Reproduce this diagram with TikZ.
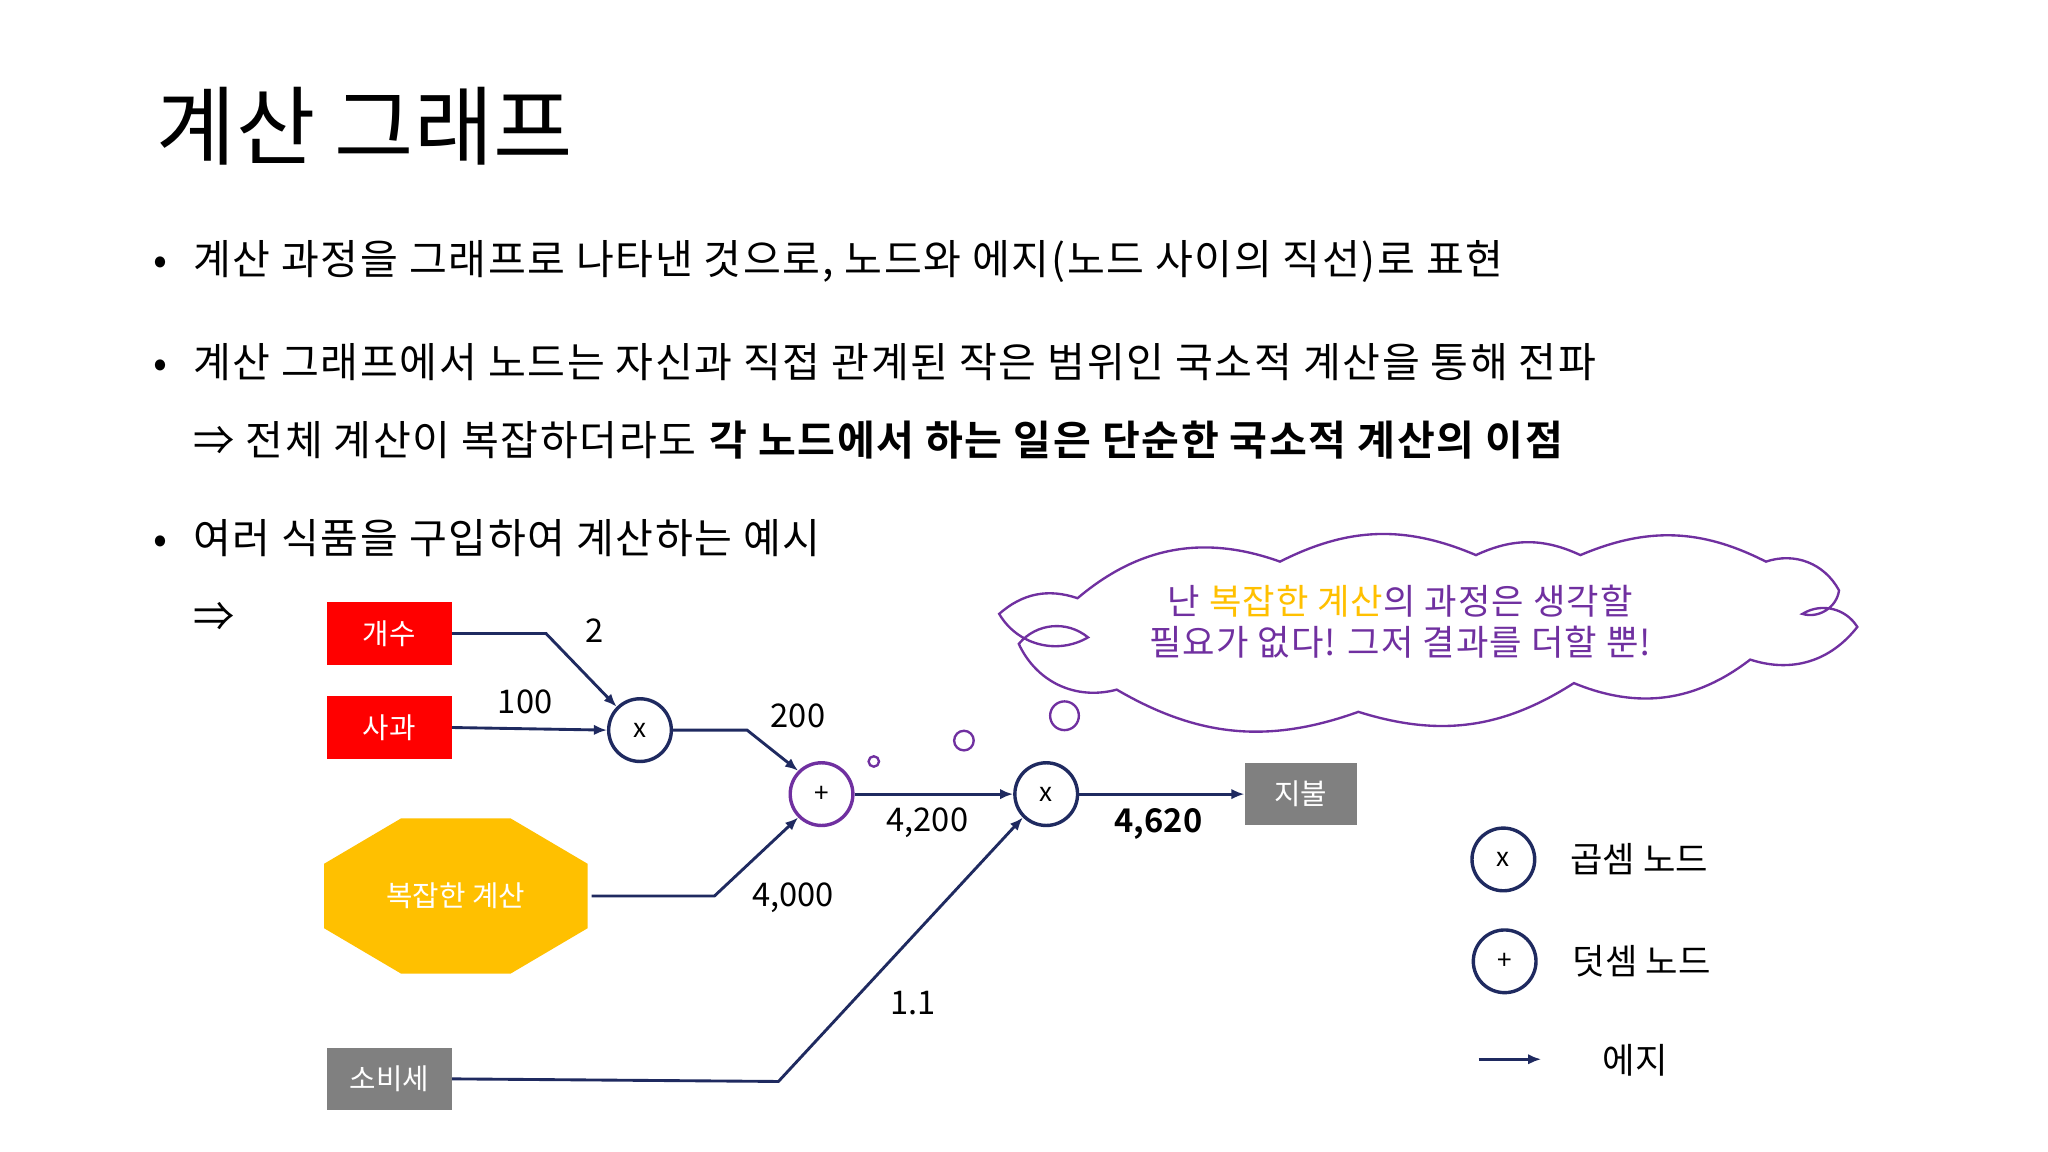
\documentclass[tikz,border=0pt]{standalone}
\usepackage{fontspec}
\setmainfont{Noto Sans CJK KR}[BoldFont={Noto Sans CJK KR Bold}]
\usetikzlibrary{shapes.geometric,arrows.meta}
\definecolor{navy}{HTML}{1F2A60}
\definecolor{purp}{HTML}{7030A0}
\definecolor{gold}{HTML}{FFC000}
\definecolor{redb}{HTML}{FF0000}
\definecolor{grayb}{HTML}{808080}
\tikzset{
 box/.style={minimum width=96pt,minimum height=48pt,inner sep=0,text=white,font=\fontsize{22}{24}\selectfont},
 opn/.style={circle,draw=navy,line width=2.6pt,minimum size=48pt,inner sep=0,fill=white,font=\fontsize{20}{22}\selectfont},
 edge/.style={draw=navy,line width=2.2pt,-{Latex[length=10pt,width=8pt]}},
 lab/.style={font=\fontsize{25}{27}\selectfont},
 bul/.style={anchor=west,font=\fontsize{31.5}{34}\selectfont\addfontfeatures{LetterSpace=4},inner sep=0},
 bub/.style={circle,draw=purp,line width=1.8pt,inner sep=0}
}
\begin{document}
\begin{tikzpicture}[x=1pt,y=-1pt]
\useasboundingbox[fill=white] (0,0) rectangle (1568,882);
\node[anchor=west,inner sep=0,font=\fontsize{66}{70}\selectfont] (title) at (120,97) {계산 그래프};
\node[bul] (b1) at (117,200) {•\hspace{20pt}계산 과정을 그래프로 나타낸 것으로, 노드와 에지(노드 사이의 직선)로 표현};
\node[bul] (b2) at (117,277) {•\hspace{20pt}계산 그래프에서 노드는 자신과 직접 관계된 작은 범위인 국소적 계산을 통해 전파};
\node[bul] (b3) at (148,337) {⇒ 전체 계산이 복잡하더라도 \textbf{각 노드에서 하는 일은 단순한 국소적 계산의 이점}};
\node[bul] (b4) at (117,412) {•\hspace{20pt}여러 식품을 구입하여 계산하는 예시};
\node[bul] (b5) at (148,472) {⇒};
% cloud
\draw[draw=purp,line width=1.8pt,fill=white] (825,458)
 to[bend left=30] (980,430) to[bend left=25] (1130,425) to[bend left=25] (1210,425)
 to[bend left=25] (1352,430) to[bend left=40] (1408,452) to[bend left=50] (1380,470)
 to[bend left=45] (1422,480) to[bend left=35] (1340,505) to[bend left=30] (1205,523)
 to[bend left=25] (1040,545) to[bend left=25] (855,528) to[bend left=40] (780,493)
 to[bend left=45] (833,488) to[bend left=45] (765,470) to[bend left=30] (825,458) -- cycle;
\node[align=center,font=\fontsize{27}{31}\selectfont\addfontfeatures{LetterSpace=3},text=purp] (ct) at (1072,476) {난 \textcolor{gold}{복잡한 계산}의 과정은 생각할\\필요가 없다! 그저 결과를 더할 뿐!};
\node[bub,minimum size=8pt] (s1) at (669,583) {};
\node[bub,minimum size=15pt] (s2) at (738,567) {};
\node[bub,minimum size=22pt] (s3) at (815,548) {};
% nodes
\node[box,fill=redb] (cnt) at (298,485) {개수};
\node[box,fill=redb] (apl) at (298,557) {사과};
\node[box,fill=grayb] (tax) at (298,826) {소비세};
\node[box,fill=grayb,minimum width=86pt] (pay) at (996,608) {지불};
\node[regular polygon,regular polygon sides=8,fill=gold,minimum size=230pt,yscale=0.56,xscale=0.95,inner sep=0] (cx) at (349,686) {};
\node[text=white,font=\fontsize{22}{24}\selectfont] (cxt) at (349,686) {복잡한 계산};
\node[opn] (m1) at (490,559) {x};
\node[opn,draw=purp] (p1) at (629,608) {+};
\node[opn] (m2) at (801,608) {x};
% edges
\draw[edge] (cnt.east) -- (418,485) -- (m1.north west);
\draw[edge] (apl.east) -- (m1.west);
\draw[edge] (m1.east) -- (572,559) -- (p1.north west);
\draw[edge] (453,686) -- (547,686) -- (p1.south west);
\draw[edge] (p1.east) -- (m2.west);
\draw[edge] (tax.east) -- (596,828) -- (m2.south west);
\draw[edge] (m2.east) -- (pay.west);
% labels
\node[lab] (l1) at (455,483) {2};
\node[lab] (l2) at (402,537) {100};
\node[lab] (l3) at (611,548) {200};
\node[lab] (l4) at (710,630) {4,200};
\node[lab] (l5) at (607,687) {4,000};
\node[lab] (l6) at (699,768) {1.1};
\node[lab,font=\fontsize{25}{27}\selectfont\bfseries] (l7) at (887,631) {4,620};
% legend
\node[opn] (lg1) at (1151,658) {x};
\node[opn] (lg2) at (1152,736) {+};
\node[lab,font=\fontsize{27}{29}\selectfont] (lt1) at (1255,658) {곱셈 노드};
\node[lab,font=\fontsize{27}{29}\selectfont] (lt2) at (1257,736) {덧셈 노드};
\coordinate (a1) at (1132,811); \coordinate (a2) at (1180,811);
\draw[edge] (a1) -- (a2);
\node[lab,font=\fontsize{27}{29}\selectfont] (lt3) at (1252,812) {에지};
\end{tikzpicture}
\end{document}
